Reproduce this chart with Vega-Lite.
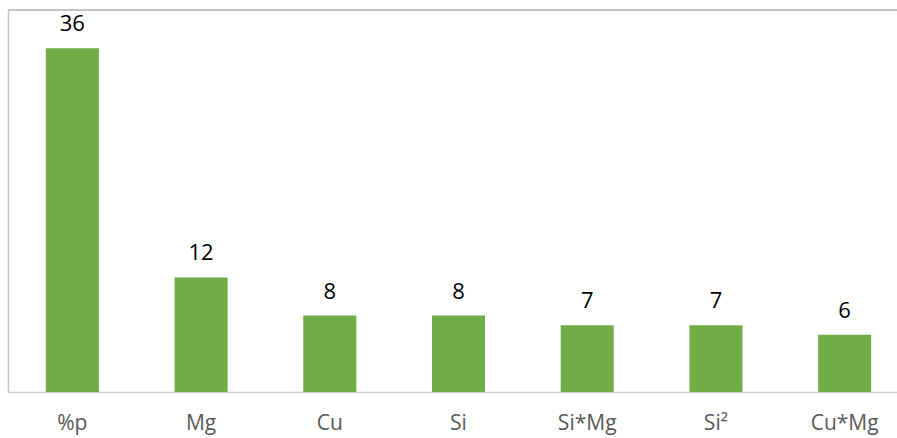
{
  "$schema": "https://vega.github.io/schema/vega-lite/v6.json",
  "width": 889,
  "height": 382,
  "autosize": {"type": "none"},
  "padding": {"left": 8, "top": 10, "right": 0, "bottom": 46},
  "background": "white",
  "config": {
    "view": {"stroke": null},
    "font": "Open Sans"
  },
  "data": {
    "values": [
      {"term": "%p", "value": 36},
      {"term": "Mg", "value": 12},
      {"term": "Cu", "value": 8},
      {"term": "Si", "value": 8},
      {"term": "Si*Mg", "value": 7},
      {"term": "Si²", "value": 7},
      {"term": "Cu*Mg", "value": 6}
    ]
  },
  "layer": [
    {
      "mark": {"type": "rule", "color": "#c4c4c4", "strokeWidth": 1.5},
      "encoding": {"y": {"datum": 40, "type": "quantitative", "scale": {"domain": [0, 40]}}}
    },
    {
      "mark": {"type": "bar", "color": "#70ad47"},
      "encoding": {
        "x": {
          "field": "term",
          "type": "nominal",
          "sort": null,
          "scale": {"range": [0, 901], "paddingInner": 0.588, "paddingOuter": 0.294},
          "axis": {
            "title": null,
            "labelAngle": 0,
            "labelFontSize": 21,
            "labelColor": "#595959",
            "labelPadding": 20,
            "ticks": false,
            "domainColor": "#d0d0d0",
            "domainWidth": 1.5
          }
        },
        "y": {
          "field": "value",
          "type": "quantitative",
          "scale": {"domain": [0, 40]},
          "axis": {"title": null, "labels": false, "ticks": false, "grid": false, "domainColor": "#c4c4c4", "domainWidth": 1.5}
        }
      }
    },
    {
      "mark": {"type": "text", "baseline": "alphabetic", "dy": -17, "fontSize": 22, "color": "#000000"},
      "encoding": {
        "x": {"field": "term", "type": "nominal", "sort": null},
        "y": {"field": "value", "type": "quantitative"},
        "text": {"field": "value", "type": "quantitative"}
      }
    }
  ]
}
